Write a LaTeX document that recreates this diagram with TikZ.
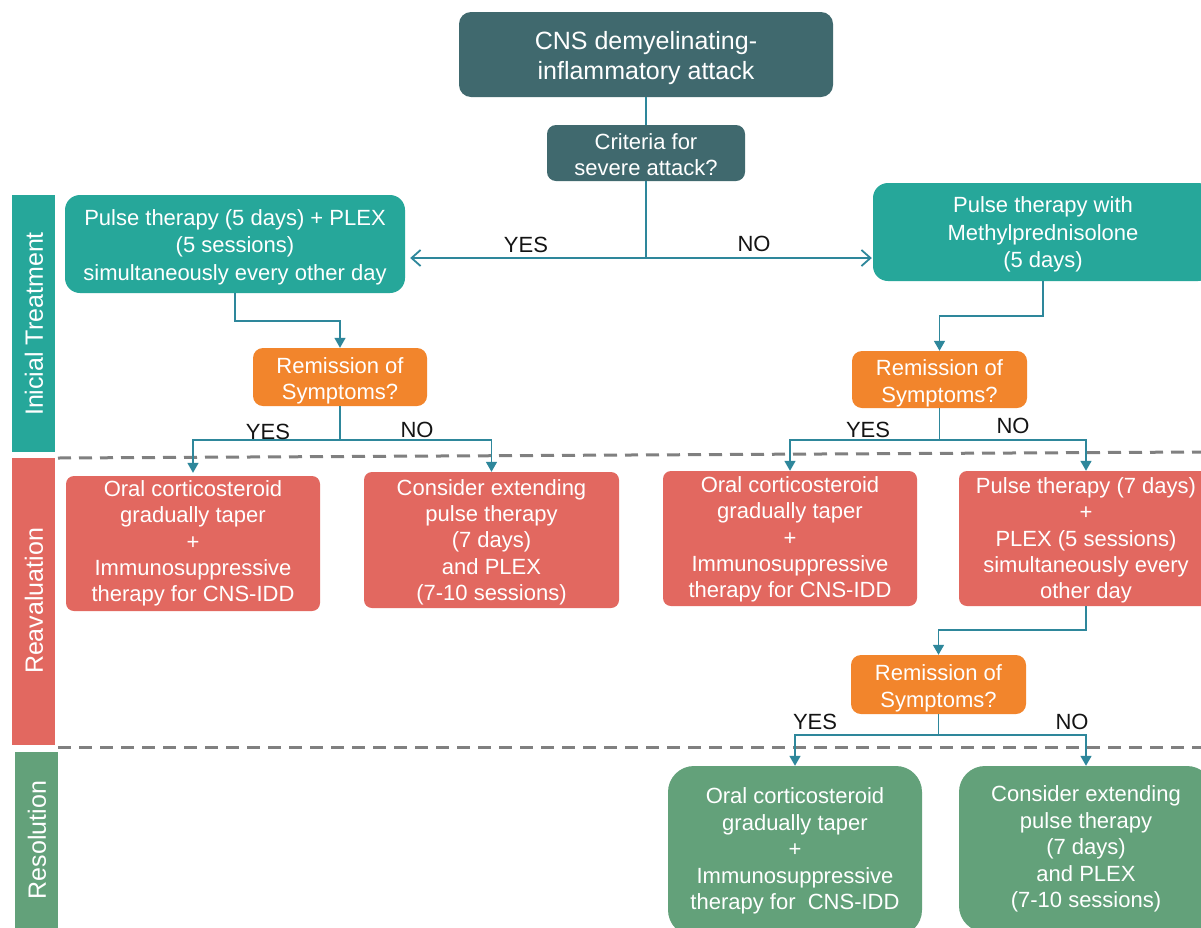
\documentclass[tikz,border=0pt]{standalone}
\usepackage{fontspec}
\setmainfont{Liberation Sans}
\usetikzlibrary{arrows.meta}
\definecolor{darkteal}{RGB}{64,105,110}
\definecolor{tealc}{RGB}{38,167,154}
\definecolor{orangec}{RGB}{242,133,44}
\definecolor{redc}{RGB}{226,104,96}
\definecolor{greenc}{RGB}{99,161,122}
\definecolor{linec}{RGB}{46,135,155}
\definecolor{dashc}{RGB}{128,128,128}
\newcommand{\tstrut}[1]{\rule{0pt}{#1}}
\tikzset{
  base/.style={text=white, align=center, inner sep=0pt, font=\fontsize{22}{26.5}\selectfont},
  topbox/.style={base, fill=darkteal, rounded corners=12pt, font=\fontsize{25}{30}\selectfont},
  critbox/.style={base, fill=darkteal, rounded corners=9pt},
  tealbox/.style={base, fill=tealc, rounded corners=15pt, font=\fontsize{22}{27.3}\selectfont},
  orangebox/.style={base, fill=orangec, rounded corners=10pt},
  redbox/.style={base, fill=redc, rounded corners=8pt, font=\fontsize{22}{26.3}\selectfont},
  greenbox/.style={base, fill=greenc, rounded corners=26pt},
  band/.style={text=white, inner sep=0pt, font=\fontsize{25}{28}\selectfont},
  conn/.style={draw=linec, line width=1.5pt},
  tarrow/.style={conn, -{Triangle[length=10pt,width=11pt]}},
  barrow/.style={conn, -{Straight Barb[length=9pt,width=16pt,line width=1.8pt]}},
  lbl/.style={text=black!92, inner sep=0pt, font=\fontsize{22}{26}\selectfont},
  sepline/.style={draw=dashc, line width=3pt, dash pattern=on 13pt off 8pt}
}
\begin{document}
\begin{tikzpicture}[x=1pt,y=-1pt]
\useasboundingbox (0,0) rectangle (1201,927);
\clip (0,0) rectangle (1201,927);
\fill[white] (0,0) rectangle (1201,927);

% side bands
\fill[tealc] (12,195) rectangle (55,452);
\fill[redc] (12,458) rectangle (55,745);
\fill[greenc] (15,752) rectangle (58,940);
\node[band, rotate=90] (bandA) at (34,324) {Inicial Treatment};
\node[band, rotate=90] (bandB) at (34,601) {Reavaluation};
\node[band, rotate=90] (bandC) at (37,840) {Resolution};

% separators
\coordinate (d1a) at (58,458);
\coordinate (d1b) at (1201,452);
\coordinate (d2a) at (58,747);
\coordinate (d2b) at (1201,747);
\draw[sepline] (d1a) -- (d1b);
\draw[sepline] (d2a) -- (d2b);

% nodes
\node[topbox, minimum width=374pt, minimum height=85pt] (top) at (646,54.5) {\tstrut{26pt}CNS demyelinating-\\inflammatory attack};
\node[critbox, minimum width=198pt, minimum height=56pt] (crit) at (646,153) {\tstrut{19pt}Criteria for\\severe attack?};
\node[tealbox, minimum width=340pt, minimum height=98pt] (lt) at (235,244) {\tstrut{22pt}Pulse therapy (5 days) + PLEX\\(5 sessions)\\simultaneously every other day};
\node[tealbox, minimum width=340pt, minimum height=98pt] (rt) at (1043,232) {\tstrut{21pt}Pulse therapy with\\Methylprednisolone\\(5 days)};
\node[orangebox, minimum width=174pt, minimum height=58pt] (rem1) at (340,377) {\tstrut{24pt}Remission of\\Symptoms?};
\node[orangebox, minimum width=175pt, minimum height=57pt] (rem2) at (939.5,379.5) {\tstrut{24pt}Remission of\\Symptoms?};
\node[redbox, minimum width=254pt, minimum height=135pt] (r1) at (193,543.5) {Oral corticosteroid\\gradually taper\\+\\Immunosuppressive\\therapy for CNS-IDD};
\node[redbox, minimum width=255pt, minimum height=136pt] (r2) at (491.5,540) {\tstrut{20pt}Consider extending\\pulse therapy\\(7 days)\\and PLEX\\(7-10 sessions)};
\node[redbox, minimum width=254pt, minimum height=135pt] (r3) at (790,538.5) {\tstrut{18pt}Oral corticosteroid\\gradually taper\\+\\Immunosuppressive\\therapy for CNS-IDD};
\node[redbox, minimum width=254pt, minimum height=135pt] (r4) at (1086,538.5) {\tstrut{20pt}Pulse therapy (7 days)\\+\\PLEX (5 sessions)\\simultaneously every\\other day};
\node[orangebox, minimum width=175pt, minimum height=59pt] (rem3) at (938.5,684.5) {\tstrut{24pt}Remission of\\Symptoms?};
\node[greenbox, minimum width=254pt, minimum height=170pt] (g1) at (795,851) {Oral corticosteroid\\gradually taper\\+\\Immunosuppressive\\therapy for\ \ CNS-IDD};
\node[greenbox, minimum width=254pt, minimum height=166pt] (g2) at (1086,849) {Consider extending\\pulse therapy\\(7 days)\\and PLEX\\(7-10 sessions)};

% connectors
\draw[conn] (top.south) -- (crit.north);
\coordinate (j0) at (646,258);
\draw[conn] (crit.south) -- (j0);
\draw[barrow] (j0) -- ([xshift=5pt]j0 -| lt.east);
\draw[barrow] (j0) -- ([xshift=-1pt]j0 -| rt.west);
\node[lbl] (yes0) at (526,245) {YES};
\node[lbl] (no0) at (754,244) {NO};

\draw[tarrow] (lt.south) -- ++(0,28) -| (rem1.north);
\draw[tarrow] (rt.south) -- ++(0,35) -| (rem2.north);

\coordinate (j1) at (340,440);
\draw[conn] (rem1.south) -- (j1);
\draw[tarrow] (j1) -| ([yshift=3pt]r1.north);
\draw[tarrow] (j1) -| (r2.north);
\node[lbl] (yes1) at (268,432) {YES};
\node[lbl] (no1) at (417,430) {NO};

\coordinate (j2) at (939.5,440);
\draw[conn] (rem2.south) -- (j2);
\draw[tarrow] (j2) -| (r3.north);
\draw[tarrow] (j2) -| (r4.north);
\node[lbl] (yes2) at (868,430) {YES};
\node[lbl] (no2) at (1013,426) {NO};

\draw[tarrow] (r4.south) -- ++(0,24) -| (rem3.north);

\coordinate (j3) at (938.5,735);
\draw[conn] (rem3.south) -- (j3);
\draw[tarrow] (j3) -| (g1.north);
\draw[tarrow] (j3) -| (g2.north);
\node[lbl] (yes3) at (815,722) {YES};
\node[lbl] (no3) at (1072,722) {NO};
\end{tikzpicture}
\end{document}
